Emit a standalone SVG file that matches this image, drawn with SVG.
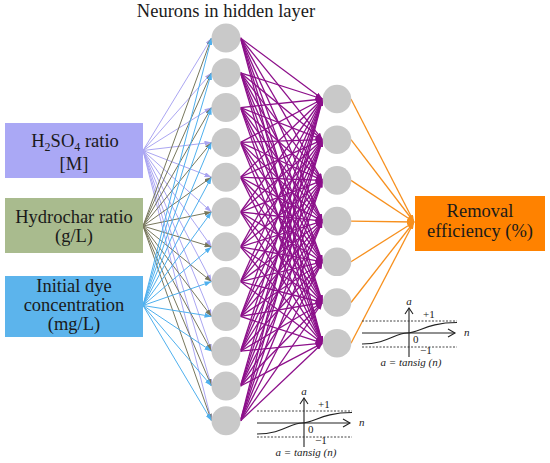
<svg xmlns="http://www.w3.org/2000/svg" width="550" height="463" viewBox="0 0 550 463" font-family="'Liberation Serif', 'DejaVu Serif', serif">
<defs>
<marker id="mL" viewBox="0 0 7 5" refX="7" refY="2.5" markerWidth="7" markerHeight="5" markerUnits="userSpaceOnUse" orient="auto"><path d="M0,0 L7,2.5 L0,5 z" fill="#a9a3f0"/></marker>
<marker id="mO" viewBox="0 0 7 5" refX="7" refY="2.5" markerWidth="7" markerHeight="5" markerUnits="userSpaceOnUse" orient="auto"><path d="M0,0 L7,2.5 L0,5 z" fill="#77775c"/></marker>
<marker id="mB" viewBox="0 0 7 5" refX="7" refY="2.5" markerWidth="7" markerHeight="5" markerUnits="userSpaceOnUse" orient="auto"><path d="M0,0 L7,2.5 L0,5 z" fill="#4fb0ee"/></marker>
<marker id="mP" viewBox="0 0 7 5" refX="7" refY="2.5" markerWidth="7" markerHeight="5" markerUnits="userSpaceOnUse" orient="auto"><path d="M0,0 L7,2.5 L0,5 z" fill="#8c0f8a"/></marker>
<marker id="mR" viewBox="0 0 7 5" refX="7" refY="2.5" markerWidth="7" markerHeight="5" markerUnits="userSpaceOnUse" orient="auto"><path d="M0,0 L7,2.5 L0,5 z" fill="#f7901e"/></marker>
</defs>
<style>
text{font-family:'Liberation Serif','DejaVu Serif',serif;fill:#1a1a1a}
.lbl{font-size:18.5px;text-anchor:middle}
.cL line{stroke:#aba6f2;stroke-width:1;marker-end:url(#mL)}
.cO line{stroke:#77775c;stroke-width:1;marker-end:url(#mO)}
.cB line{stroke:#4fb0ee;stroke-width:1;marker-end:url(#mB)}
.cP line{stroke:#8c0f8a;stroke-width:1.3;marker-end:url(#mP)}
.cR line{stroke:#f7901e;stroke-width:1.3;marker-end:url(#mR)}
.neuron{fill:#c9c9c9}
.ax{stroke:#222;stroke-width:1.1;fill:none}
.dot{stroke:#444;stroke-width:1;stroke-dasharray:2 1.5;fill:none}
.pl{font-size:11px}
.it{font-size:11px;font-style:italic}
</style>
<rect width="550" height="463" fill="#ffffff"/>
<text x="226" y="17" font-size="18.5" text-anchor="middle">Neurons in hidden layer</text>
<g id="connectors">
<g class="cL">
<line x1="143" y1="150.5" x2="211.5" y2="38"/>
<line x1="143" y1="150.5" x2="211.5" y2="72.8"/>
<line x1="143" y1="150.5" x2="211.5" y2="107.6"/>
<line x1="143" y1="150.5" x2="211.5" y2="142.4"/>
<line x1="143" y1="150.5" x2="211.5" y2="177.2"/>
<line x1="143" y1="150.5" x2="211.5" y2="212"/>
<line x1="143" y1="150.5" x2="211.5" y2="246.8"/>
<line x1="143" y1="150.5" x2="211.5" y2="281.6"/>
<line x1="143" y1="150.5" x2="211.5" y2="316.4"/>
<line x1="143" y1="150.5" x2="211.5" y2="351.2"/>
<line x1="143" y1="150.5" x2="211.5" y2="386"/>
<line x1="143" y1="150.5" x2="211.5" y2="420.8"/>
</g>
<g class="cO">
<line x1="143" y1="226" x2="211.5" y2="38"/>
<line x1="143" y1="226" x2="211.5" y2="72.8"/>
<line x1="143" y1="226" x2="211.5" y2="107.6"/>
<line x1="143" y1="226" x2="211.5" y2="142.4"/>
<line x1="143" y1="226" x2="211.5" y2="177.2"/>
<line x1="143" y1="226" x2="211.5" y2="212"/>
<line x1="143" y1="226" x2="211.5" y2="246.8"/>
<line x1="143" y1="226" x2="211.5" y2="281.6"/>
<line x1="143" y1="226" x2="211.5" y2="316.4"/>
<line x1="143" y1="226" x2="211.5" y2="351.2"/>
<line x1="143" y1="226" x2="211.5" y2="386"/>
<line x1="143" y1="226" x2="211.5" y2="420.8"/>
</g>
<g class="cB">
<line x1="143" y1="305.5" x2="211.5" y2="38"/>
<line x1="143" y1="305.5" x2="211.5" y2="72.8"/>
<line x1="143" y1="305.5" x2="211.5" y2="107.6"/>
<line x1="143" y1="305.5" x2="211.5" y2="142.4"/>
<line x1="143" y1="305.5" x2="211.5" y2="177.2"/>
<line x1="143" y1="305.5" x2="211.5" y2="212"/>
<line x1="143" y1="305.5" x2="211.5" y2="246.8"/>
<line x1="143" y1="305.5" x2="211.5" y2="281.6"/>
<line x1="143" y1="305.5" x2="211.5" y2="316.4"/>
<line x1="143" y1="305.5" x2="211.5" y2="351.2"/>
<line x1="143" y1="305.5" x2="211.5" y2="386"/>
<line x1="143" y1="305.5" x2="211.5" y2="420.8"/>
</g>
<g class="cP">
<line x1="240.5" y1="38" x2="322.5" y2="99"/><line x1="240.5" y1="38" x2="322.5" y2="139.7"/><line x1="240.5" y1="38" x2="322.5" y2="180.4"/><line x1="240.5" y1="38" x2="322.5" y2="221.1"/><line x1="240.5" y1="38" x2="322.5" y2="261.8"/><line x1="240.5" y1="38" x2="322.5" y2="302.5"/><line x1="240.5" y1="38" x2="322.5" y2="343.2"/>
<line x1="240.5" y1="72.8" x2="322.5" y2="99"/><line x1="240.5" y1="72.8" x2="322.5" y2="139.7"/><line x1="240.5" y1="72.8" x2="322.5" y2="180.4"/><line x1="240.5" y1="72.8" x2="322.5" y2="221.1"/><line x1="240.5" y1="72.8" x2="322.5" y2="261.8"/><line x1="240.5" y1="72.8" x2="322.5" y2="302.5"/><line x1="240.5" y1="72.8" x2="322.5" y2="343.2"/>
<line x1="240.5" y1="107.6" x2="322.5" y2="99"/><line x1="240.5" y1="107.6" x2="322.5" y2="139.7"/><line x1="240.5" y1="107.6" x2="322.5" y2="180.4"/><line x1="240.5" y1="107.6" x2="322.5" y2="221.1"/><line x1="240.5" y1="107.6" x2="322.5" y2="261.8"/><line x1="240.5" y1="107.6" x2="322.5" y2="302.5"/><line x1="240.5" y1="107.6" x2="322.5" y2="343.2"/>
<line x1="240.5" y1="142.4" x2="322.5" y2="99"/><line x1="240.5" y1="142.4" x2="322.5" y2="139.7"/><line x1="240.5" y1="142.4" x2="322.5" y2="180.4"/><line x1="240.5" y1="142.4" x2="322.5" y2="221.1"/><line x1="240.5" y1="142.4" x2="322.5" y2="261.8"/><line x1="240.5" y1="142.4" x2="322.5" y2="302.5"/><line x1="240.5" y1="142.4" x2="322.5" y2="343.2"/>
<line x1="240.5" y1="177.2" x2="322.5" y2="99"/><line x1="240.5" y1="177.2" x2="322.5" y2="139.7"/><line x1="240.5" y1="177.2" x2="322.5" y2="180.4"/><line x1="240.5" y1="177.2" x2="322.5" y2="221.1"/><line x1="240.5" y1="177.2" x2="322.5" y2="261.8"/><line x1="240.5" y1="177.2" x2="322.5" y2="302.5"/><line x1="240.5" y1="177.2" x2="322.5" y2="343.2"/>
<line x1="240.5" y1="212" x2="322.5" y2="99"/><line x1="240.5" y1="212" x2="322.5" y2="139.7"/><line x1="240.5" y1="212" x2="322.5" y2="180.4"/><line x1="240.5" y1="212" x2="322.5" y2="221.1"/><line x1="240.5" y1="212" x2="322.5" y2="261.8"/><line x1="240.5" y1="212" x2="322.5" y2="302.5"/><line x1="240.5" y1="212" x2="322.5" y2="343.2"/>
<line x1="240.5" y1="246.8" x2="322.5" y2="99"/><line x1="240.5" y1="246.8" x2="322.5" y2="139.7"/><line x1="240.5" y1="246.8" x2="322.5" y2="180.4"/><line x1="240.5" y1="246.8" x2="322.5" y2="221.1"/><line x1="240.5" y1="246.8" x2="322.5" y2="261.8"/><line x1="240.5" y1="246.8" x2="322.5" y2="302.5"/><line x1="240.5" y1="246.8" x2="322.5" y2="343.2"/>
<line x1="240.5" y1="281.6" x2="322.5" y2="99"/><line x1="240.5" y1="281.6" x2="322.5" y2="139.7"/><line x1="240.5" y1="281.6" x2="322.5" y2="180.4"/><line x1="240.5" y1="281.6" x2="322.5" y2="221.1"/><line x1="240.5" y1="281.6" x2="322.5" y2="261.8"/><line x1="240.5" y1="281.6" x2="322.5" y2="302.5"/><line x1="240.5" y1="281.6" x2="322.5" y2="343.2"/>
<line x1="240.5" y1="316.4" x2="322.5" y2="99"/><line x1="240.5" y1="316.4" x2="322.5" y2="139.7"/><line x1="240.5" y1="316.4" x2="322.5" y2="180.4"/><line x1="240.5" y1="316.4" x2="322.5" y2="221.1"/><line x1="240.5" y1="316.4" x2="322.5" y2="261.8"/><line x1="240.5" y1="316.4" x2="322.5" y2="302.5"/><line x1="240.5" y1="316.4" x2="322.5" y2="343.2"/>
<line x1="240.5" y1="351.2" x2="322.5" y2="99"/><line x1="240.5" y1="351.2" x2="322.5" y2="139.7"/><line x1="240.5" y1="351.2" x2="322.5" y2="180.4"/><line x1="240.5" y1="351.2" x2="322.5" y2="221.1"/><line x1="240.5" y1="351.2" x2="322.5" y2="261.8"/><line x1="240.5" y1="351.2" x2="322.5" y2="302.5"/><line x1="240.5" y1="351.2" x2="322.5" y2="343.2"/>
<line x1="240.5" y1="386" x2="322.5" y2="99"/><line x1="240.5" y1="386" x2="322.5" y2="139.7"/><line x1="240.5" y1="386" x2="322.5" y2="180.4"/><line x1="240.5" y1="386" x2="322.5" y2="221.1"/><line x1="240.5" y1="386" x2="322.5" y2="261.8"/><line x1="240.5" y1="386" x2="322.5" y2="302.5"/><line x1="240.5" y1="386" x2="322.5" y2="343.2"/>
<line x1="240.5" y1="420.8" x2="322.5" y2="99"/><line x1="240.5" y1="420.8" x2="322.5" y2="139.7"/><line x1="240.5" y1="420.8" x2="322.5" y2="180.4"/><line x1="240.5" y1="420.8" x2="322.5" y2="221.1"/><line x1="240.5" y1="420.8" x2="322.5" y2="261.8"/><line x1="240.5" y1="420.8" x2="322.5" y2="302.5"/><line x1="240.5" y1="420.8" x2="322.5" y2="343.2"/>
</g>
<g class="cR">
<line x1="351" y1="99" x2="414" y2="222"/>
<line x1="351" y1="139.7" x2="414" y2="222"/>
<line x1="351" y1="180.4" x2="414" y2="222"/>
<line x1="351" y1="221.1" x2="414" y2="222"/>
<line x1="351" y1="261.8" x2="414" y2="222"/>
<line x1="351" y1="302.5" x2="414" y2="222"/>
<line x1="351" y1="343.2" x2="414" y2="222"/>
</g>
</g>
<g id="in-h2so4">
<rect x="5" y="123" width="138" height="55" fill="#aaa8f5"/>
<text class="lbl" x="75" y="147">H<tspan font-size="12" dy="3.5">2</tspan><tspan dy="-3.5">SO</tspan><tspan font-size="12" dy="3.5">4</tspan><tspan dy="-3.5"> ratio</tspan></text>
<text class="lbl" x="74" y="170">[M]</text>
</g>
<g id="in-hydrochar">
<rect x="5" y="198" width="138" height="55" fill="#a9bb8e"/>
<text class="lbl" x="74" y="223">Hydrochar ratio</text>
<text class="lbl" x="74" y="242">(g/L)</text>
</g>
<g id="in-dye">
<rect x="5" y="276" width="138" height="61" fill="#5cb4ec"/>
<text class="lbl" x="74" y="292">Initial dye</text>
<text class="lbl" x="74" y="311">concentration</text>
<text class="lbl" x="74" y="330">(mg/L)</text>
</g>
<g id="hidden1">
<circle class="neuron" cx="226" cy="38" r="14.5"/>
<circle class="neuron" cx="226" cy="72.8" r="14.5"/>
<circle class="neuron" cx="226" cy="107.6" r="14.5"/>
<circle class="neuron" cx="226" cy="142.4" r="14.5"/>
<circle class="neuron" cx="226" cy="177.2" r="14.5"/>
<circle class="neuron" cx="226" cy="212" r="14.5"/>
<circle class="neuron" cx="226" cy="246.8" r="14.5"/>
<circle class="neuron" cx="226" cy="281.6" r="14.5"/>
<circle class="neuron" cx="226" cy="316.4" r="14.5"/>
<circle class="neuron" cx="226" cy="351.2" r="14.5"/>
<circle class="neuron" cx="226" cy="386" r="14.5"/>
<circle class="neuron" cx="226" cy="420.8" r="14.5"/>
</g>
<g id="hidden2">
<circle class="neuron" cx="337" cy="99" r="14.3"/>
<circle class="neuron" cx="337" cy="139.7" r="14.3"/>
<circle class="neuron" cx="337" cy="180.4" r="14.3"/>
<circle class="neuron" cx="337" cy="221.1" r="14.3"/>
<circle class="neuron" cx="337" cy="261.8" r="14.3"/>
<circle class="neuron" cx="337" cy="302.5" r="14.3"/>
<circle class="neuron" cx="337" cy="343.2" r="14.3"/>
</g>
<g id="output">
<rect x="415" y="196" width="130" height="55" fill="#ff8200"/>
<text class="lbl" x="480" y="217">Removal</text>
<text class="lbl" x="480" y="237">efficiency (%)</text>
</g>
<g id="tansig1">
<line class="dot" x1="257" y1="411" x2="352" y2="411"/>
<line class="dot" x1="257" y1="437" x2="352" y2="437"/>
<line class="ax" x1="257" y1="423" x2="350" y2="423"/>
<path class="ax" d="M343,419 L350,423 L343,427"/>
<line class="ax" x1="304" y1="447" x2="304" y2="398"/>
<path class="ax" d="M300,404 L304,398 L308,404"/>
<path class="ax" d="M257,434 C282,434 290,423 302,423 S322,412.5 352,412.5"/>
<text class="it" x="304" y="395" text-anchor="middle">a</text>
<text class="pl" x="318" y="408">+1</text>
<text class="it" x="359" y="426">n</text>
<text class="pl" x="308" y="433">0</text>
<text class="pl" x="315" y="444">−1</text>
<text class="it" x="306" y="455.5" text-anchor="middle">a = tansig (n)</text>
</g>
<g id="tansig2" transform="translate(105,-90)">
<line class="dot" x1="257" y1="411" x2="352" y2="411"/>
<line class="dot" x1="257" y1="437" x2="352" y2="437"/>
<line class="ax" x1="257" y1="423" x2="350" y2="423"/>
<path class="ax" d="M343,419 L350,423 L343,427"/>
<line class="ax" x1="304" y1="447" x2="304" y2="398"/>
<path class="ax" d="M300,404 L304,398 L308,404"/>
<path class="ax" d="M257,434 C282,434 290,423 302,423 S322,412.5 352,412.5"/>
<text class="it" x="304" y="395" text-anchor="middle">a</text>
<text class="pl" x="318" y="408">+1</text>
<text class="it" x="359" y="426">n</text>
<text class="pl" x="308" y="433">0</text>
<text class="pl" x="315" y="444">−1</text>
<text class="it" x="306" y="455.5" text-anchor="middle">a = tansig (n)</text>
</g>
</svg>
